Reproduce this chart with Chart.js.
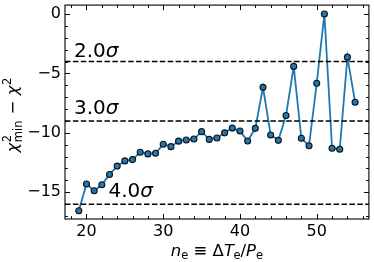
<!DOCTYPE html>
<html>
<head>
<meta charset="utf-8">
<script src="https://cdn.jsdelivr.net/npm/chart.js@4.4.0/dist/chart.umd.min.js"></script>
<style>
  html, body { margin: 0; padding: 0; background: #fff; }
  #wrap { width: 374px; height: 262px; }
</style>
</head>
<body>
<div id="wrap"><canvas id="chart" width="374" height="262"></canvas></div>
<script>
// n_e values on the x axis
const nValues = [19, 20, 21, 22, 23, 24, 25, 26, 27, 28, 29, 30, 31, 32, 33, 34, 35, 36, 37,
    38, 39, 40, 41, 42, 43, 44, 45, 46, 47, 48, 49, 50, 51, 52, 53, 54, 55];
// chi2_min - chi2
const deltaChi2 = [-16.55, -14.3, -14.87, -14.37, -13.5, -12.8, -12.36, -12.25, -11.63, -11.77,
    -11.72, -10.96, -11.16, -10.7, -10.6, -10.52, -9.9, -10.55, -10.43, -10.0, -9.6, -9.85,
    -10.69, -9.62, -6.17, -10.18, -10.63, -8.54, -4.41, -10.46, -11.08, -5.83, 0.0, -11.3,
    -11.38, -3.63, -7.42];
// significance thresholds
const sigmaLevels = [-4, -9, -16];
const sigmaNames = ['2.0', '3.0', '4.0'];
const xTicks = [20, 30, 40, 50];
const yTicks = [0, -5, -10, -15];
const xRange = [17.2, 56.8];
const yRange = [-17.25, 0.75];

const FONT = '"DejaVu Sans", sans-serif';
Chart.defaults.font.family = FONT;
Chart.defaults.font.size = 16;
Chart.defaults.color = '#000';

const lineData = nValues.map((n, i) => ({ x: n, y: deltaChi2[i] }));

const datasets = sigmaLevels.map(lvl => ({
    data: [{ x: xRange[0], y: lvl }, { x: xRange[1], y: lvl }],
    borderColor: '#000',
    borderWidth: 1.5,
    borderDash: [5.5, 2.4],
    pointRadius: 0,
    order: 0,
}));
datasets.push({
    data: lineData,
    borderColor: '#1f77b4',
    borderWidth: 1.8,
    pointRadius: 3.0,
    pointBorderWidth: 1.1,
    pointBackgroundColor: '#1f77b4',
    pointBorderColor: '#111',
    order: 1,
});

// draw a run of text pieces: [text, font, dy, extra]
function drawPieces(ctx, pieces, x, y, align) {
    let total = 0;
    pieces.forEach(p => { ctx.font = p[1]; total += ctx.measureText(p[0]).width + (p[3] || 0); });
    let cx = align === 'center' ? x - total / 2 : x;
    pieces.forEach(p => {
        ctx.font = p[1];
        ctx.fillText(p[0], cx, y + (p[2] || 0));
        cx += ctx.measureText(p[0]).width + (p[3] || 0);
    });
}

const decorations = {
    id: 'decorations',
    afterDraw(chart) {
        const ctx = chart.ctx;
        const { left, right, top, bottom } = chart.chartArea;
        const xs = chart.scales.x, ys = chart.scales.y;
        ctx.save();
        ctx.strokeStyle = '#000';
        ctx.lineWidth = 1;
        // inward ticks on all four sides
        ctx.beginPath();
        for (let v = 18; v <= 56; v += 2) {
            const px = Math.round(xs.getPixelForValue(v)) + 0.5;
            const len = v % 10 === 0 ? 5 : 2.8;
            ctx.moveTo(px, bottom); ctx.lineTo(px, bottom - len);
            ctx.moveTo(px, top); ctx.lineTo(px, top + len);
        }
        for (let v = -17; v <= 0; v += 1) {
            const py = Math.round(ys.getPixelForValue(v)) + 0.5;
            const len = v % 5 === 0 ? 5 : 2.8;
            ctx.moveTo(left, py); ctx.lineTo(left + len, py);
            ctx.moveTo(right, py); ctx.lineTo(right - len, py);
        }
        ctx.stroke();
        // frame
        ctx.lineWidth = 1.1;
        ctx.strokeRect(left, top, right - left, bottom - top);

        ctx.fillStyle = '#000';
        ctx.textBaseline = 'alphabetic';
        ctx.textAlign = 'left';
        // sigma labels
        const labelX = [18.5, 18.5, 23.0];
        const labelDy = [5, 6.5, 6.7];
        sigmaLevels.forEach((lvl, i) => {
            const px = xs.getPixelForValue(labelX[i]) - 1;
            const py = ys.getPixelForValue(lvl) - labelDy[i];
            drawPieces(ctx, [
                [sigmaNames[i], '20px ' + FONT],
                ['\u03c3', 'italic 20px ' + FONT],
            ], px, py, 'left');
        });

        // x axis title
        const f = 16.5, fs = 11.5;
        const it = 'italic ' + f + 'px ' + FONT, up = f + 'px ' + FONT, sub = fs + 'px ' + FONT;
        drawPieces(ctx, [
            ['n', it],
            ['e', sub, 3],
            [' \u2261 ', up],
            ['\u0394', up],
            ['T', it, 0, -0.5],
            ['e', sub, 3],
            ['/', up],
            ['P', it],
            ['e', sub, 3],
        ], (left + right) / 2, 256, 'center');

        // y axis title, rotated
        ctx.translate(18, 115.5);
        ctx.rotate(-Math.PI / 2);
        ctx.font = it;
        const wChi = ctx.measureText('\u03c7').width;
        ctx.font = sub;
        const wMin = ctx.measureText('min').width;
        ctx.font = up;
        const wMinus = ctx.measureText(' \u2212 ').width;
        ctx.font = sub;
        const w2 = ctx.measureText('2').width;
        const total = wChi + wMin + 1 + wMinus + wChi + w2;
        let cx = -total / 2;
        ctx.font = it; ctx.fillText('\u03c7', cx, 0); cx += wChi + 0.5;
        ctx.font = sub; ctx.fillText('2', cx, -7.5); ctx.fillText('min', cx, 3.5); cx += wMin + 1;
        ctx.font = up; ctx.fillText(' \u2212 ', cx, 0); cx += wMinus;
        ctx.font = it; ctx.fillText('\u03c7', cx, 0); cx += wChi + 0.5;
        ctx.font = sub; ctx.fillText('2', cx, -7.5);
        ctx.restore();
    }
};

new Chart(document.getElementById('chart'), {
    type: 'line',
    data: { datasets },
    plugins: [decorations],
    options: {
        responsive: false,
        animation: false,
        devicePixelRatio: 1,
        layout: { padding: { left: 0, right: 4, top: 3, bottom: 0 } },
        plugins: { legend: { display: false }, tooltip: { enabled: false } },
        scales: {
            x: {
                type: 'linear',
                min: xRange[0],
                max: xRange[1],
                grid: { display: false, drawTicks: false },
                border: { display: false },
                ticks: { padding: 3, maxRotation: 0 },
                afterBuildTicks: s => { s.ticks = xTicks.map(v => ({ value: v })); },
                afterFit: s => { s.height = 43; s.paddingLeft = 0; s.paddingRight = 0; },
            },
            y: {
                type: 'linear',
                min: yRange[0],
                max: yRange[1],
                grid: { display: false, drawTicks: false },
                border: { display: false },
                ticks: {
                    padding: 4,
                    callback: v => (v < 0 ? '\u2212' + Math.abs(v) : String(v)),
                },
                afterBuildTicks: s => { s.ticks = yTicks.map(v => ({ value: v })); },
                afterFit: s => { s.width = 65; s.paddingTop = 0; s.paddingBottom = 0; },
            },
        },
    },
});
</script>
</body>
</html>
